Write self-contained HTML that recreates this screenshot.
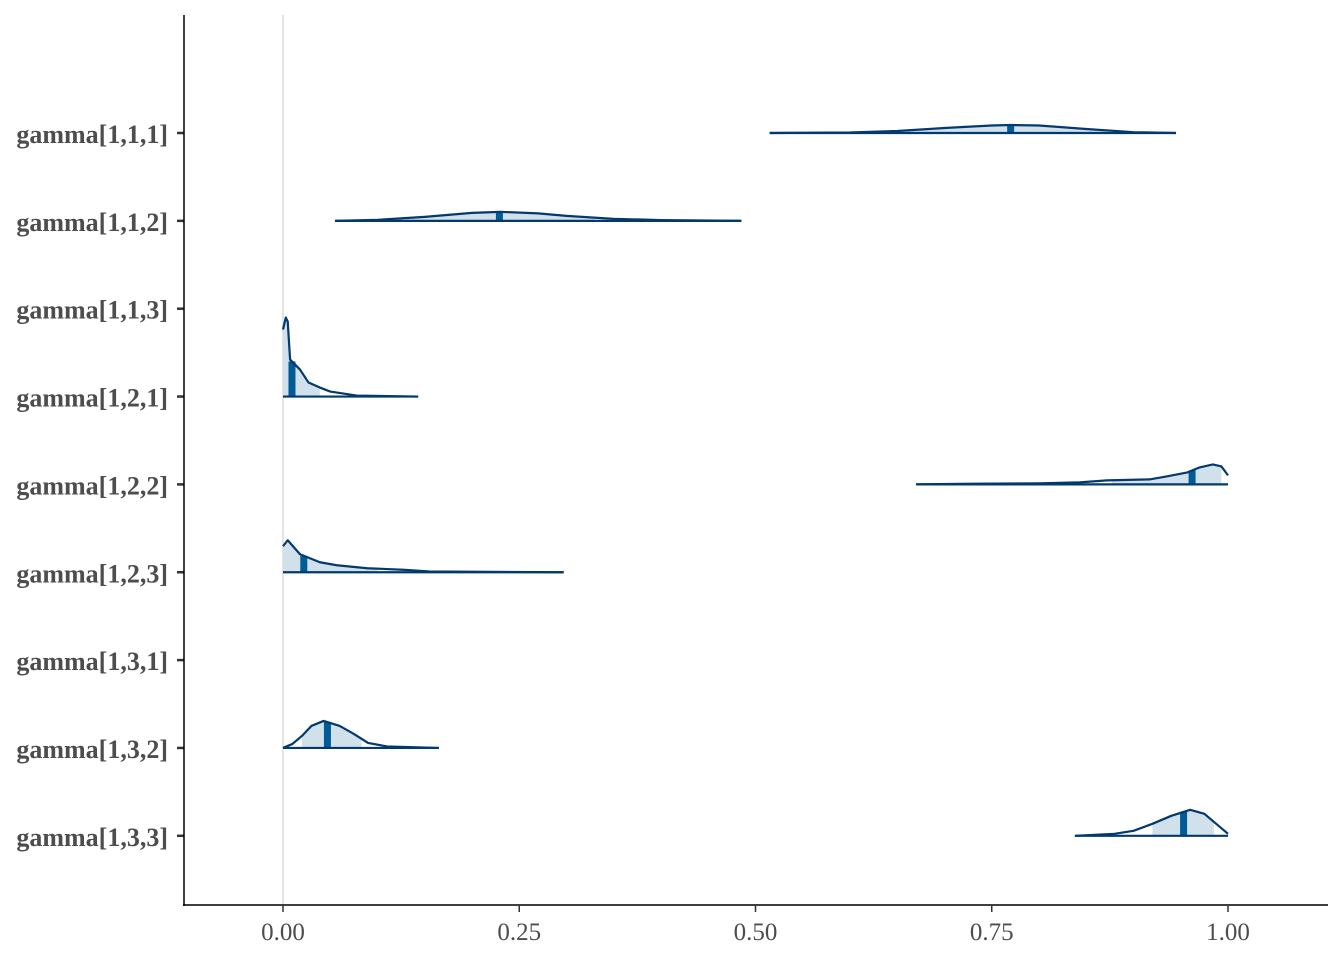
<!DOCTYPE html>
<html><head><meta charset="utf-8"><style>
body{margin:0;background:#fff}
svg text{font-family:"Liberation Serif",serif}
</style></head><body>
<svg id="chart" width="1344" height="960"></svg>
<script>
const labels=["gamma[1,1,1]","gamma[1,1,2]","gamma[1,1,3]","gamma[1,2,1]","gamma[1,2,2]","gamma[1,2,3]","gamma[1,3,1]","gamma[1,3,2]","gamma[1,3,3]"];
const densX=[
 [0.515,0.6,0.65,0.7,0.75,0.77,0.8,0.85,0.9,0.945],
 [0.055,0.1,0.15,0.2,0.23,0.27,0.3,0.35,0.4,0.485],
 [],
 [0,0.003,0.005,0.0075,0.018,0.027,0.039,0.05,0.078,0.143],
 [0.67,0.73,0.8,0.843,0.872,0.917,0.935,0.957,0.97,0.984,0.993,1.0],
 [0,0.005,0.018,0.039,0.057,0.089,0.127,0.155,0.297],
 [],
 [0,0.01,0.02,0.03,0.043,0.06,0.075,0.09,0.11,0.165],
 [0.838,0.88,0.9,0.92,0.94,0.96,0.975,0.99,1.0]
];
const densH=[
 [0,0.5,2,5,7.5,8,7.5,4,0.8,0],
 [0,1,4,8,9,7.5,5,2,0.8,0],
 [],
 [67,79,75,37,27,14,9,5,1,0],
 [0,0.7,1,2,4,5,8,12,17,20,18,9],
 [26,32,18,10,7,4,2.5,0.8,0],
 [],
 [0,4,12,22,27,22,14,5,1.5,0],
 [0,2,5,12,20,26,22,10,2]
];
const innerLo=[0.66,0.13,0,0,0.877,0,0,0.02,0.92];
const innerHi=[0.87,0.33,0,0.039,0.993,0.10,0,0.083,0.985];
const medians=[0.77,0.229,0,0.0095,0.962,0.022,0,0.047,0.953];
const xTicks=[0,0.25,0.5,0.75,1.0];
const xTickLabels=["0.00","0.25","0.50","0.75","1.00"];

const NS="http://www.w3.org/2000/svg";
const svg=document.getElementById('chart');
const X=v=>283+945*v;
const Y=i=>133+87.85*i;
function mk(t,a,p){const e=document.createElementNS(NS,t);for(const k in a)e.setAttribute(k,a[k]);(p||svg).appendChild(e);return e;}
function interp(xs,hs,v){for(let j=0;j<xs.length-1;j++){if(v>=xs[j]&&v<=xs[j+1]){const t=(v-xs[j])/(xs[j+1]-xs[j]||1);return hs[j]+t*(hs[j+1]-hs[j]);}}return 0;}

let l=mk('line',{x1:283,y1:15,x2:283,y2:905,stroke:'#dcdcdc','stroke-width':1.5});


const defs=mk('defs',{});
labels.forEach((lab,i)=>{
  const y=Y(i);
  const g=mk('g',{});
  
  
  const xs=densX[i],hs=densH[i];
  if(xs.length){
    const cp=mk('clipPath',{id:'c'+i},defs);
    mk('rect',{x:X(innerLo[i]),y:0,width:X(innerHi[i])-X(innerLo[i]),height:960},cp);
    let d='M'+X(xs[0])+','+y;
    xs.forEach((v,j)=>d+=' L'+X(v)+','+(y-hs[j]));
    d+=' L'+X(xs[xs.length-1])+','+y+' Z';
    mk('path',{d:d,fill:'#d1e1ec','clip-path':'url(#c'+i+')'},g);
    const hm=interp(xs,hs,medians[i]);
    const mb=mk('rect',{x:X(medians[i])-3.5,y:y-hm,width:7,height:hm,fill:'#005b96'},g);
    
    
    let d2='M'+X(xs[0])+','+(y-hs[0]);
    xs.forEach((v,j)=>d2+=' L'+X(v)+','+(y-hs[j]));
    mk('path',{d:d2,fill:'none',stroke:'#03396c','stroke-width':2.2,'stroke-linejoin':'round'},g);
    mk('line',{x1:X(xs[0]),y1:y,x2:X(xs[xs.length-1]),y2:y,stroke:'#03396c','stroke-width':2.2},g);
  }
  mk('line',{x1:177,y1:y,x2:184,y2:y,stroke:'#333','stroke-width':2.5});
  const t=mk('text',{x:168,y:y+10,'text-anchor':'end','font-size':26,'font-weight':'bold',fill:'#4d4d4d'});
  t.textContent=lab;
  
  
});
mk('line',{x1:184,y1:15,x2:184,y2:906,stroke:'#000','stroke-width':1.5});
mk('line',{x1:183,y1:905,x2:1328,y2:905,stroke:'#000','stroke-width':1.5});
xTicks.forEach((v,k)=>{
  mk('line',{x1:X(v),y1:905,x2:X(v),y2:912,stroke:'#333','stroke-width':1.5});
  const t=mk('text',{x:X(v),y:940,'text-anchor':'middle','font-size':25,fill:'#4d4d4d'});
  t.textContent=xTickLabels[k];
  
  
});
</script>
</body></html>
